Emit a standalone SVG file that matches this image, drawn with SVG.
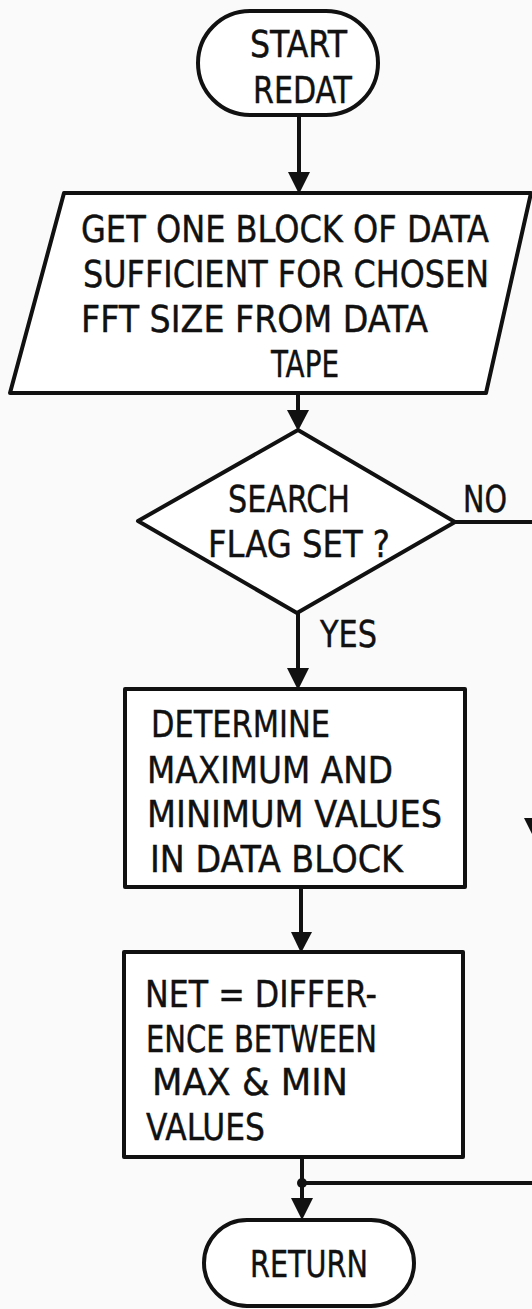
<svg xmlns="http://www.w3.org/2000/svg" width="532" height="1309" viewBox="0 0 532 1309">
<style>
.s{fill:#fff;stroke:#111;stroke-width:4;stroke-linejoin:round}
.l{fill:none;stroke:#111;stroke-width:4}
.a{fill:#111;stroke:none}
.t{font-family:"DejaVu Sans Condensed","DejaVu Sans",sans-serif;font-stretch:condensed;font-size:37px;fill:#111;stroke:#111;stroke-width:0.4}
</style>
<rect width="532" height="1309" fill="#fafafa"/>
<g id="connectors">
<line class="l" x1="299" y1="115" x2="299" y2="180"/>
<polygon class="a" points="288,172 310,172 299,194"/>
<line class="l" x1="298" y1="393" x2="298" y2="415"/>
<polygon class="a" points="287,410 309,410 298,431"/>
<line class="l" x1="298" y1="613" x2="298" y2="675"/>
<polygon class="a" points="287,668 309,668 298,690"/>
<line class="l" x1="301" y1="887" x2="301" y2="940"/>
<polygon class="a" points="291,932 312,932 301,953"/>
<line class="l" x1="302" y1="1157" x2="302" y2="1205"/>
<polygon class="a" points="291,1198 313,1198 302,1220"/>
<polyline class="l" points="455,522 535,522 535,1183 302,1183"/>
<polygon class="a" points="524,818 546,818 535,840"/>
<circle class="a" cx="302" cy="1183" r="5"/>
</g>
<g id="start">
<rect class="s" x="198" y="11" width="180" height="104" rx="52" ry="52"/>
<text class="t" x="250" y="57" textLength="97" lengthAdjust="spacingAndGlyphs">START</text>
<text class="t" x="253" y="103" textLength="99" lengthAdjust="spacingAndGlyphs">REDAT</text>
</g>
<g id="getdata">
<polygon class="s" points="64,193 531,193 486,393 10,393"/>
<text class="t" x="81" y="242" textLength="408" lengthAdjust="spacingAndGlyphs">GET ONE BLOCK OF DATA</text>
<text class="t" x="83" y="287" textLength="406" lengthAdjust="spacingAndGlyphs">SUFFICIENT FOR CHOSEN</text>
<text class="t" x="81" y="332" textLength="347" lengthAdjust="spacingAndGlyphs">FFT SIZE FROM DATA</text>
<text class="t" x="271" y="377" textLength="68" lengthAdjust="spacingAndGlyphs">TAPE</text>
</g>
<g id="decision">
<polygon class="s" points="298,430 455,522 297,613 138,521"/>
<text class="t" x="228" y="512" textLength="122" lengthAdjust="spacingAndGlyphs">SEARCH</text>
<text class="t" x="208" y="557" textLength="182" lengthAdjust="spacingAndGlyphs">FLAG SET ?</text>
<text class="t" x="463" y="512" textLength="44" lengthAdjust="spacingAndGlyphs">NO</text>
<text class="t" x="320" y="647" textLength="57" lengthAdjust="spacingAndGlyphs">YES</text>
</g>
<g id="determine">
<rect class="s" x="125" y="689" width="340" height="198"/>
<text class="t" x="151" y="737" textLength="179" lengthAdjust="spacingAndGlyphs">DETERMINE</text>
<text class="t" x="147" y="783" textLength="246" lengthAdjust="spacingAndGlyphs">MAXIMUM AND</text>
<text class="t" x="147" y="827" textLength="295" lengthAdjust="spacingAndGlyphs">MINIMUM VALUES</text>
<text class="t" x="150" y="872" textLength="253" lengthAdjust="spacingAndGlyphs">IN DATA BLOCK</text>
</g>
<g id="net">
<rect class="s" x="124" y="952" width="339" height="205"/>
<text class="t" x="145" y="1007" textLength="232" lengthAdjust="spacingAndGlyphs">NET = DIFFER-</text>
<text class="t" x="146" y="1052" textLength="231" lengthAdjust="spacingAndGlyphs">ENCE BETWEEN</text>
<text class="t" x="152" y="1095" textLength="196" lengthAdjust="spacingAndGlyphs">MAX &amp; MIN</text>
<text class="t" x="146" y="1140" textLength="119" lengthAdjust="spacingAndGlyphs">VALUES</text>
</g>
<g id="return">
<rect class="s" x="204" y="1220" width="210" height="86" rx="43" ry="43"/>
<text class="t" x="250" y="1277" textLength="118" lengthAdjust="spacingAndGlyphs">RETURN</text>
</g>
</svg>
